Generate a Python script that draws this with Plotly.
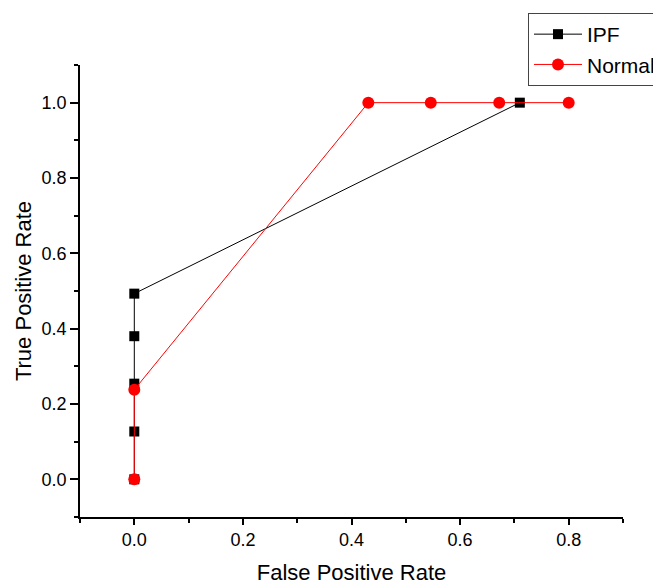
import plotly.graph_objects as go

ipf_fpr = [0, 0, 0, 0, 0, 0.71]
ipf_tpr = [0, 0.127, 0.254, 0.38, 0.493, 1.0]
normal_fpr = [0, 0, 0.431, 0.546, 0.672, 0.8]
normal_tpr = [0, 0.238, 1.0, 1.0, 1.0, 1.0]

x_ticks = [0.0, 0.2, 0.4, 0.6, 0.8]
y_ticks = [0.0, 0.2, 0.4, 0.6, 0.8, 1.0]

fig = go.Figure()
fig.add_trace(go.Scatter(x=ipf_fpr, y=ipf_tpr, mode="lines+markers", name="IPF",
                         line=dict(color="black", width=1),
                         marker=dict(symbol="square", size=10, color="black")))
fig.add_trace(go.Scatter(x=normal_fpr, y=normal_tpr, mode="lines+markers", name="Normal",
                         line=dict(color="red", width=1),
                         marker=dict(symbol="circle", size=12, color="red")))

font = "Liberation Sans, Arial, sans-serif"
# page body adds an 8px offset; figure extends slightly past the window on the right
W, H = 661, 577
L, R, T, B = 72, 46, 57, 68
pw, ph = W - L - R, H - T - B
fig.update_layout(
    width=W, height=H,
    margin=dict(l=L, r=R, t=T, b=B, autoexpand=False),
    paper_bgcolor="white", plot_bgcolor="white",
    font=dict(family=font, color="black"),
    showlegend=True,
    legend=dict(x=(520 - L) / pw, y=(H - B - 5) / ph,
                xanchor="left", yanchor="top",
                bordercolor="#444", borderwidth=1, bgcolor="white",
                font=dict(size=21, family=font), itemwidth=48,
                tracegroupgap=0),
    xaxis=dict(range=[-0.1, 0.9], tickvals=x_ticks, ticktext=["%.1f" % v for v in x_ticks],
               showgrid=False, zeroline=False, showline=True, linecolor="black", linewidth=1.5,
               ticks="outside", ticklen=6, tickwidth=1.5, tickcolor="black",
               tickfont=dict(size=18),
               minor=dict(dtick=0.1, tick0=0, ticks="outside", ticklen=4, tickwidth=1.5, tickcolor="black"),
               title=dict(text="False Positive Rate", font=dict(size=22), standoff=23)),
    yaxis=dict(range=[-0.1, 1.1], tickvals=y_ticks, ticktext=["%.1f" % v for v in y_ticks],
               showgrid=False, zeroline=False, showline=True, linecolor="black", linewidth=1.5,
               ticks="outside", ticklen=8, tickwidth=1.5, tickcolor="black",
               tickfont=dict(size=18),
               minor=dict(dtick=0.1, tick0=0, ticks="outside", ticklen=4, tickwidth=1.5, tickcolor="black"),
               title=dict(text="True Positive Rate", font=dict(size=22), standoff=4)),
)

fig.write_html("out.html")
